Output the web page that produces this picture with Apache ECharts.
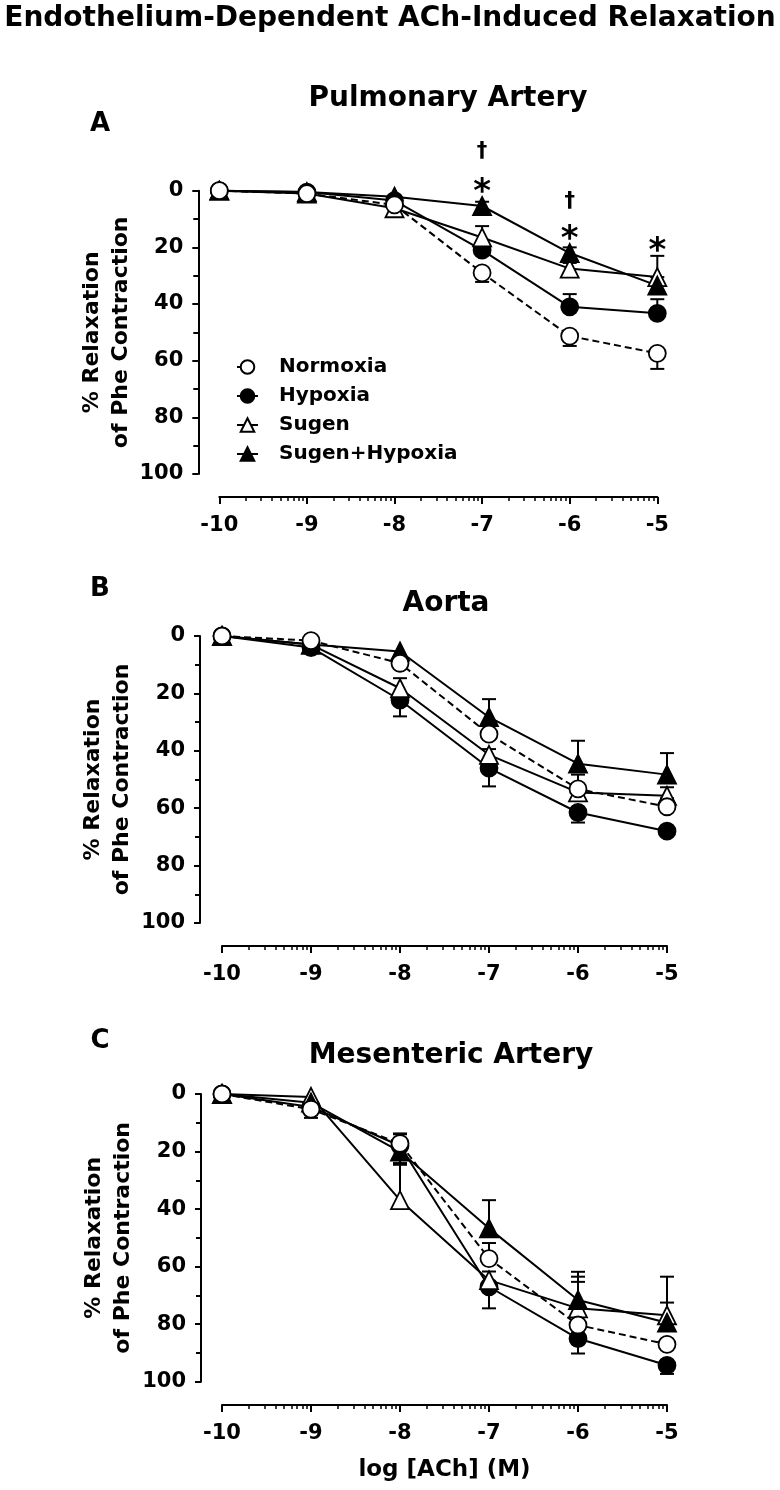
<!DOCTYPE html>
<html><head><meta charset="utf-8">
<script src="https://cdn.jsdelivr.net/npm/echarts@6/dist/echarts.min.js"></script>
<style>html,body{margin:0;padding:0;background:#fff}#c{width:780px;height:1490px}</style>
</head><body><div id="c"></div>
<script>
// ---------- data ----------
const doses = [-10, -9, -8, -7, -6, -5];           // log [ACh] (M)
const groups = ['Normoxia', 'Hypoxia', 'Sugen', 'Sugen+Hypoxia'];
const yTicks = [0, 20, 40, 60, 80, 100];

// Panel A – Pulmonary Artery (% relaxation)
const pulmNormoxia = [0, 1, 5, 29, 51.3, 57.4];
const pulmHypoxia  = [0, 0.5, 3.5, 21, 41, 43.3];
const pulmSugen    = [0, 1, 6.2, 16.5, 27.5, 30.5];
const pulmSH       = [0, 0.5, 2.1, 5.4, 22, 33.5];
// SEM (signed: + drawn toward larger values, - toward smaller)
const pulmNormoxiaErr = [0, 0, 1.5, 3.2, 3.5, 5.5];
const pulmHypoxiaErr  = [0, 0, 0, -2, -4.5, -5];
const pulmSugenErr    = [0, 0, 0, -4, -2, -7.5];
const pulmSHErr       = [0, 0, 0, -1.5, -2, -3];
// significance marks
const pulmMarkX    = [-7, -7, -6, -6, -5];
const pulmMarkY    = [-13.8, -2.6, 3.9, 13.9, 18.0];
const pulmMarkText = ['†', '*', '†', '*', '*'];

// Panel B – Aorta
const aortaNormoxia = [0, 1.6, 9.5, 34.2, 53.3, 59.5];
const aortaHypoxia  = [0, 4, 22.3, 46, 61.5, 68];
const aortaSugen    = [0, 3, 18.2, 41.4, 54.5, 55.7];
const aortaSH       = [0, 3, 5.4, 28.3, 44.5, 48.3];
const aortaNormoxiaErr = [0, 0, 0, -3, -5, -3];
const aortaHypoxiaErr  = [0, 0, 5.7, 6.4, 3.5, 1.5];
const aortaSugenErr    = [0, 0, -3.5, -2, -2, -3];
const aortaSHErr       = [0, 0, 0, -6.3, -8, -7.5];

// Panel C – Mesenteric Artery
const mesNormoxia = [0, 5.3, 17.2, 57.2, 80.3, 87];
const mesHypoxia  = [0, 4.5, 18, 67, 85, 94.3];
const mesSugen    = [0, 1, 36.9, 64.7, 74.5, 76.9];
const mesSH       = [0, 3, 20, 46.7, 71.6, 79.5];
const mesNormoxiaErr = [0, 3, -3.5, -5.4, -15, 0];
const mesHypoxiaErr  = [0, 0, 6, 7.5, 5.2, 3];
const mesSugenErr    = [0, 0, -12.3, -3, -11, -13.4];
const mesSHErr       = [0, 0, -6, -9.8, -9.8, -7];

// ---------- layout ----------
const FONT = 'DejaVu Sans';
const panels = [
  { grid: { left: 219.3, top: 190.7, width: 438, height: 283.3 }, yOff: 21, xOff: 23,
    vals: [pulmNormoxia, pulmHypoxia, pulmSugen, pulmSH],
    errs: [pulmNormoxiaErr, pulmHypoxiaErr, pulmSugenErr, pulmSHErr], xName: '' },
  { grid: { left: 222, top: 636, width: 445, height: 287 }, yOff: 22, xOff: 23,
    vals: [aortaNormoxia, aortaHypoxia, aortaSugen, aortaSH],
    errs: [aortaNormoxiaErr, aortaHypoxiaErr, aortaSugenErr, aortaSHErr], xName: '' },
  { grid: { left: 222, top: 1094, width: 445, height: 287.7 }, yOff: 21, xOff: 23.3,
    vals: [mesNormoxia, mesHypoxia, mesSugen, mesSH],
    errs: [mesNormoxiaErr, mesHypoxiaErr, mesSugenErr, mesSHErr], xName: 'log [ACh] (M)' }
];

// minor tick positions of a log-concentration axis (decade subdivisions)
const minorX = [];
for (let d = doses[0]; d < doses[doses.length - 1]; d++) {
  for (let k = 2; k <= 9; k++) minorX.push(d + Math.log10(k));
}

const styles = [
  { symbol: 'circle', size: 17, fill: '#fff', dash: [7, 4] },
  { symbol: 'circle', size: 17, fill: '#000', dash: 'solid' },
  { symbol: 'triangle', size: 18, fill: '#fff', dash: 'solid' },
  { symbol: 'triangle', size: 18, fill: '#000', dash: 'solid' }
];

const grids = [], xAxes = [], yAxes = [], series = [];
const NP = panels.length;
panels.forEach((p, pi) => {
  grids[pi] = p.grid;
  grids[pi + NP] = Object.assign({}, p.grid);       // twin grid carrying the minor x ticks
  xAxes[pi] = {
    type: 'value', gridIndex: pi, min: doses[0], max: doses[doses.length - 1], interval: 1,
    position: 'bottom', offset: p.xOff, splitLine: { show: false },
    axisLine: { show: true, onZero: false, lineStyle: { color: '#000', width: 2 } },
    axisTick: { show: true, inside: false, length: 7, lineStyle: { color: '#000', width: 2 } },
    axisLabel: { margin: 18, color: '#000', fontFamily: FONT, fontWeight: 'bold', fontSize: 21 },
    name: p.xName, nameLocation: 'middle', nameGap: 54, nameMoveOverlap: false,
    nameTextStyle: { color: '#000', fontFamily: FONT, fontWeight: 'bold', fontSize: 23 }
  };
  xAxes[pi + NP] = {
    type: 'value', gridIndex: pi + NP, min: doses[0], max: doses[doses.length - 1],
    position: 'bottom', offset: p.xOff, splitLine: { show: false },
    axisLine: { show: false, onZero: false },
    axisTick: { show: true, inside: false, length: 4, customValues: minorX, lineStyle: { color: '#000', width: 1.5 } },
    axisLabel: { show: false }
  };
  yAxes[pi] = {
    type: 'value', gridIndex: pi, min: yTicks[0], max: yTicks[yTicks.length - 1], interval: 20, inverse: true,
    offset: p.yOff, splitLine: { show: false },
    axisLine: { show: true, onZero: false, lineStyle: { color: '#000', width: 2 } },
    axisTick: { show: true, inside: false, length: 6, lineStyle: { color: '#000', width: 2 } },
    minorTick: { show: true, splitNumber: 2, length: 5, lineStyle: { color: '#000', width: 2 } },
    axisLabel: { margin: 15, color: '#000', fontFamily: FONT, fontWeight: 'bold', fontSize: 21 },
    name: '% Relaxation\nof Phe Contraction', nameLocation: 'middle', nameGap: 63, nameMoveOverlap: false,
    nameTextStyle: { color: '#000', fontFamily: FONT, fontWeight: 'bold', fontSize: 22, lineHeight: 29 }
  };
  yAxes[pi + NP] = {
    type: 'value', gridIndex: pi + NP, min: 0, max: 100, inverse: true, show: false
  };
  // error bars
  groups.forEach((g, gi) => {
    series.push({
      type: 'custom', name: 'err' + pi + '_' + gi, xAxisIndex: pi, yAxisIndex: pi, z: 1,
      silent: true, clip: false,
      data: doses.map((d, i) => [d, p.vals[gi][i], p.errs[gi][i]]),
      renderItem: function (params, api) {
        const x = api.value(0), y = api.value(1), e = api.value(2);
        if (!e) return null;
        const p0 = api.coord([x, y]), p1 = api.coord([x, y + e]);
        const hw = 7;
        return { type: 'group', children: [
          { type: 'line', shape: { x1: p0[0], y1: p0[1], x2: p1[0], y2: p1[1] }, style: { stroke: '#000', lineWidth: 2 } },
          { type: 'line', shape: { x1: p1[0] - hw, y1: p1[1], x2: p1[0] + hw, y2: p1[1] }, style: { stroke: '#000', lineWidth: 2 } }
        ] };
      }
    });
  });
  // curves
  groups.forEach((g, gi) => {
    const s = styles[gi];
    series.push({
      type: 'line', name: g, xAxisIndex: pi, yAxisIndex: pi, z: 3 + (gi === 0 ? 1 : 0),
      data: doses.map((d, i) => [d, p.vals[gi][i]]),
      symbol: s.symbol, symbolSize: s.size, showAllSymbol: true,
      itemStyle: { color: s.fill, borderColor: '#000', borderWidth: 1.8 },
      lineStyle: { color: '#000', width: 2, type: s.dash },
      emphasis: { disabled: true }, clip: false
    });
  });
});

// significance marks in panel A (drawn as text at data coordinates)
series.push({
  type: 'custom', name: 'marks', xAxisIndex: 0, yAxisIndex: 0, silent: true, clip: false, z: 6,
  data: pulmMarkX.map((x, i) => [x, pulmMarkY[i], i]),
  renderItem: function (params, api) {
    const pt = api.coord([api.value(0), api.value(1)]);
    const t = pulmMarkText[api.value(2)];
    const star = t === '*';
    return {
      type: 'text', x: pt[0], y: pt[1] + (star ? 10 : 0),
      style: { text: t, fill: '#000', font: 'bold ' + (star ? 34 : 21) + 'px "' + FONT + '"',
        align: 'center', verticalAlign: 'middle' }
    };
  }
});

function txt(text, x, y, size) {
  return { type: 'text', silent: true, style: { text: text, x: x, y: y, fill: '#000',
    font: 'bold ' + size + 'px "' + FONT + '"', align: 'center', verticalAlign: 'middle',
    textAlign: 'center', textVerticalAlign: 'middle' } };
}

const option = {
  animation: false,
  backgroundColor: '#fff',
  grid: grids, xAxis: xAxes, yAxis: yAxes, series: series,
  legend: {
    orient: 'vertical', left: 231, top: 352, itemWidth: 21, itemHeight: 17, itemGap: 9,
    selectedMode: false, data: groups,
    textStyle: { color: '#000', fontFamily: FONT, fontWeight: 'bold', fontSize: 20, padding: [0, 0, 0, 16] }
  },
  graphic: [
    txt('Endothelium-Dependent ACh-Induced Relaxation', 390, 19, 28),
    txt('Pulmonary Artery', 448, 99, 28),
    txt('A', 100, 124, 26),
    txt('Aorta', 446, 604, 28),
    txt('B', 100, 589, 26),
    txt('Mesenteric Artery', 451, 1056, 28),
    txt('C', 100, 1041, 26)
  ]
};

const chart = echarts.init(document.getElementById('c'), null, { renderer: 'canvas' });
chart.setOption(option);
</script>
</body></html>
